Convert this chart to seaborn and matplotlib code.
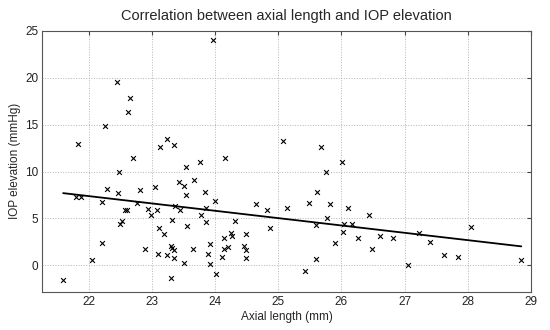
import numpy as np
import pandas as pd
import matplotlib
matplotlib.use("Agg")
import matplotlib.pyplot as plt
import seaborn as sns

# valores
axial_length = [21.59, 21.79, 21.87, 21.83, 22.05, 22.20, 22.21, 22.25, 22.28, 22.45,
                22.46, 22.48, 22.49, 22.52, 22.57, 22.60, 22.62, 22.65, 22.69, 22.76,
                22.81, 22.89, 22.93, 22.98, 23.05, 23.07, 23.10, 23.11, 23.13, 23.18,
                23.23, 23.23, 23.30, 23.31, 23.30, 23.31, 23.34, 23.34, 23.34, 23.36,
                23.43, 23.44, 23.50, 23.51, 23.53, 23.53, 23.56, 23.64, 23.66, 23.76,
                23.77, 23.83, 23.85, 23.86, 23.88, 23.92, 23.92, 23.97, 23.99, 24.01,
                24.11, 24.14, 24.14, 24.16, 24.20, 24.25, 24.27, 24.31, 24.45, 24.48,
                24.48, 24.49, 24.65, 24.82, 24.87, 25.07, 25.13, 25.42, 25.48, 25.59,
                25.59, 25.61, 25.67, 25.75, 25.77, 25.82, 25.89, 26.01, 26.02, 26.04,
                26.10, 26.16, 26.26, 26.43, 26.49, 26.61, 26.81, 27.05, 27.23, 27.41,
                27.63, 27.85, 28.05, 28.84]
iop_elevation = [-1.5, 7.3, 7.3, 12.9, 0.6, 6.8, 2.4, 14.8, 8.1, 19.5,
                 7.7, 9.9, 4.4, 4.7, 5.9, 5.9, 16.3, 17.8, 11.4, 6.6,
                 8.0, 1.7, 6.0, 5.4, 8.3, 5.9, 1.2, 4.0, 12.6, 3.4,
                 13.5, 1.1, 2.1, 1.9, -1.3, 4.8, 12.8, 1.6, 0.8, 6.3,
                 8.9, 5.9, 8.45, 0.3, 10.5, 7.5, 4.2, 1.7, 9.1, 11.0,
                 5.4, 7.8, 6.1, 4.6, 1.25, 2.3, 0.1, 24.0, 6.9, -0.9,
                 0.85, 2.9, 1.75, 11.4, 2.0, 3.5, 3.1, 4.7, 2.1, 1.6,
                 0.8, 3.35, 6.5, 5.9, 4.0, 13.2, 6.1, -0.6, 6.7, 4.35,
                 0.7, 7.8, 12.6, 9.9, 5.1, 6.5, 2.4, 11.0, 3.6, 4.45,
                 6.1, 4.45, 2.9, 5.4, 1.7, 3.1, 2.9, 0.0, 3.5, 2.5,
                 1.15, 0.9, 4.1, 0.6]

# reta de regressão (extremos)
fit_x = [21.59, 28.85]
fit_y = [7.7, 2.03]

x_ticks = [22, 23, 24, 25, 26, 27, 28, 29]
y_ticks = [0, 5, 10, 15, 20, 25]

df = pd.DataFrame({'axial': axial_length, 'iop': iop_elevation})
fit = pd.DataFrame({'axial': fit_x, 'iop': fit_y})

sns.set_style("white")
plt.rcParams['font.family'] = ['Liberation Sans', 'DejaVu Sans']

fig = plt.figure(figsize=(5.5, 3.3), dpi=100)
ax = fig.add_axes([0.077, 0.116, 0.888, 0.791])

sns.scatterplot(data=df, x='axial', y='iop', marker='x', color='black',
                s=12, linewidth=0.8, ax=ax, zorder=3)
sns.lineplot(data=fit, x='axial', y='iop', color='black', linewidth=1.3, ax=ax, zorder=4)

ax.set_xlim(21.26, 29)
ax.set_ylim(-2.8, 25)
ax.set_xticks(x_ticks)
ax.set_yticks(y_ticks)
ax.grid(True, linestyle=':', color='#b4b4b4', linewidth=0.7)
ax.tick_params(direction='in', length=3, labelsize=8.5, top=True, right=True,
               color='#444444', labelcolor='#222222', pad=3)
for side in ax.spines.values():
    side.set_color('#555555')
    side.set_linewidth(0.8)

ax.set_xlabel('Axial length (mm)', fontsize=8.5, labelpad=2)
ax.set_ylabel('IOP elevation (mmHg)', fontsize=8.5, labelpad=3)
ax.set_title('Correlation between axial length and IOP elevation', fontsize=10.5, pad=8)

fig.savefig('out.png', dpi=100)
